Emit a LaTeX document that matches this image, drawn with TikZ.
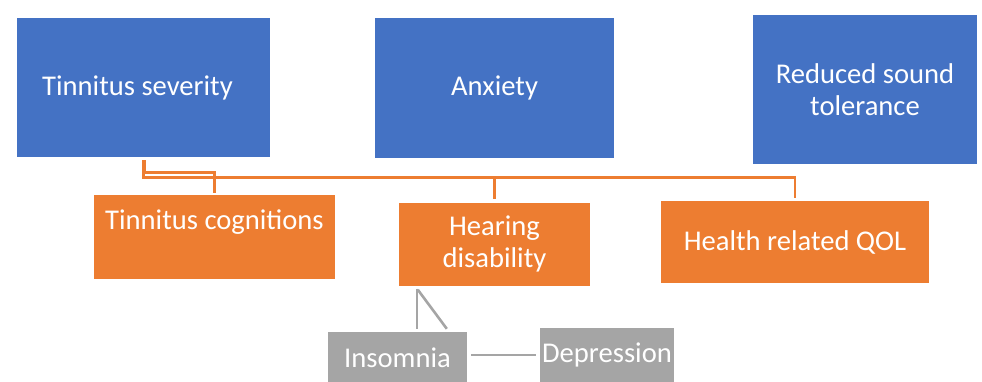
\documentclass[tikz,border=0pt]{standalone}
\usepackage{fontspec}
\setmainfont{Carlito}
\usetikzlibrary{calc}
\definecolor{cblue}{HTML}{4472C4}
\definecolor{corange}{HTML}{ED7D31}
\definecolor{cgray}{HTML}{A5A5A5}
\tikzset{
  box/.style={draw=none, inner sep=0pt, text=white, align=center,
    font=\fontsize{28.6}{32.5}\selectfont},
  bbox/.style={box, fill=cblue},
  obox/.style={box, fill=corange},
  gbox/.style={box, fill=cgray},
  txt/.style={text=white, inner sep=0pt, font=\fontsize{28.6}{32.5}\selectfont},
  oline/.style={draw=corange, line width=2.4pt},
  gline/.style={draw=cgray, line width=2.6pt},
}
\begin{document}
\begin{tikzpicture}[x=1pt,y=-1pt]
\useasboundingbox (0,0) rectangle (982,381);
\clip (0,0) rectangle (982,381);
% blue boxes
\node[bbox, minimum width=253, minimum height=139] (sev) at (143.5,87.5) {};
\node[txt, anchor=base] (sevt) at ($(sev.north)+(-6,78)$) {Tinnitus severity};
\node[bbox, minimum width=239, minimum height=140] (anx) at (494.5,88) {Anxiety};
\node[bbox, minimum width=224, minimum height=149] (rst) at (865,89.5) {Reduced sound\\tolerance};
% orange boxes
\node[obox, minimum width=241, minimum height=84] (cog) at (214.5,237) {};
\node[txt, anchor=base] (cogt) at ($(cog.north)+(0,35)$) {Tinnitus cognitions};
\node[obox, minimum width=191, minimum height=83] (hear) at (494.5,244) {Hearing\\disability};
\node[obox, minimum width=268, minimum height=82] (qol) at (795,242) {Health related QOL};
% gray boxes
\node[gbox, minimum width=139, minimum height=70] (ins) at (397.5,367) {};
\node[txt, anchor=base] (inst) at ($(ins.north)+(0,36)$) {Insomnia};
\node[gbox, minimum width=134, minimum height=70] (dep) at (607,363) {};
\node[txt, anchor=base] (dept) at ($(dep.north)+(0,35)$) {Depression};
% orange connectors
\coordinate (bus) at (0,177.5);
\draw[oline] ($(sev.south)+(0,3)$) |- (bus -| qol.north) -- ($(qol.north)+(0,-3)$);
\draw[oline] (bus -| hear.north) -- ($(hear.north)+(0,-3)$);
\draw[oline] ($(sev.south)+(1,3)$) |- ($(cog.north)+(0,-22.5)$) -- ($(cog.north)+(0,-2)$);
% gray connectors
\draw[gline] ($(hear.south west)+(18,3)$) -- ($(ins.north west)+(89,-3)$);
\draw[gline] ($(hear.south west)+(19,4)$) -- ($(ins.north west)+(119,-3)$);
\draw[gline] ($(ins.north east)+(4,23)$) -- ($(dep.north west)+(-4,27)$);
\end{tikzpicture}
\end{document}
